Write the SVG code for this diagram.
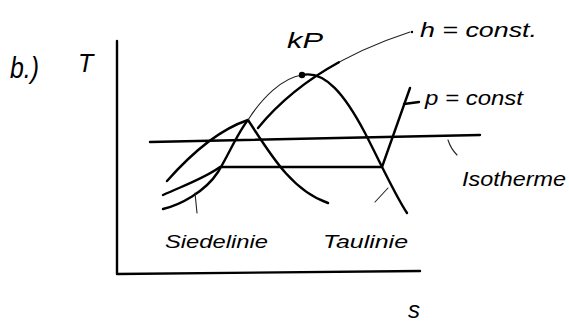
<svg xmlns="http://www.w3.org/2000/svg" width="569" height="325" viewBox="0 0 569 325">
<style>
.t{font-family:"Liberation Sans",Arial,sans-serif;font-style:italic;fill:#000}
.k{fill:none;stroke:#000;stroke-width:2.4;stroke-linecap:round;stroke-linejoin:round}
.n{fill:none;stroke:#222;stroke-width:1.1;stroke-linecap:round}
</style>
<rect width="569" height="325" fill="#fff"/>
<g id="axes">
<path class="k" d="M117,41 L117,274 L420,271" stroke-width="2.2"/>
</g>
<g id="labels">
<text class="t" x="10" y="78" font-size="30" textLength="29" lengthAdjust="spacingAndGlyphs">b.)</text>
<text class="t" x="78" y="72" font-size="25">T</text>
<text class="t" x="287" y="48" font-size="22" textLength="36" lengthAdjust="spacingAndGlyphs">kP</text>
<text class="t" x="420" y="37" font-size="20" textLength="117" lengthAdjust="spacingAndGlyphs">h = const.</text>
<text class="t" x="425" y="105" font-size="20" textLength="98" lengthAdjust="spacingAndGlyphs">p = const</text>
<text class="t" x="462" y="186" font-size="20" textLength="104" lengthAdjust="spacingAndGlyphs">Isotherme</text>
<text class="t" x="165" y="248" font-size="18" textLength="103" lengthAdjust="spacingAndGlyphs">Siedelinie</text>
<text class="t" x="323" y="248" font-size="18" textLength="85" lengthAdjust="spacingAndGlyphs">Taulinie</text>
<text class="t" x="408" y="318" font-size="24">s</text>
</g>
<g id="curves">
<path class="k" d="M150,142 L480,135" stroke-width="2"/>
<path class="k" d="M167,181 C190,155 218,130 248,120 C268,150 290,190 328,203"/>
<path class="k" d="M163,209 C180,205 205,192 218,172 C228,156 238,132 248,120"/>
<path class="n" d="M248,120 C262,98 282,78 302,75" stroke="#444"/>
<path class="k" d="M302,75 C325,70 345,95 365,133 C380,162 395,195 407,213"/>
<circle cx="302" cy="75" r="3.2" fill="#000"/>
<path class="n" d="M258,128 C285,95 330,58 410,32"/>
<path class="k" d="M258,128 C285,95 330,58 410,32" stroke-dasharray="105 1000"/>
<circle cx="412" cy="32" r="1.2" fill="#000"/>
<path class="k" d="M163,195 C185,185 205,178 220,167 L382,167 L410,88"/>
<path class="k" d="M404,104 L419,102" stroke-width="2"/>
</g>
<g id="leaders">
<path class="n" d="M195,193 L197,213"/>
<path class="n" d="M375,202 L388,188"/>
<path class="n" d="M448,140 Q451,149 457,155" stroke-width="1.8"/>
</g>
</svg>
